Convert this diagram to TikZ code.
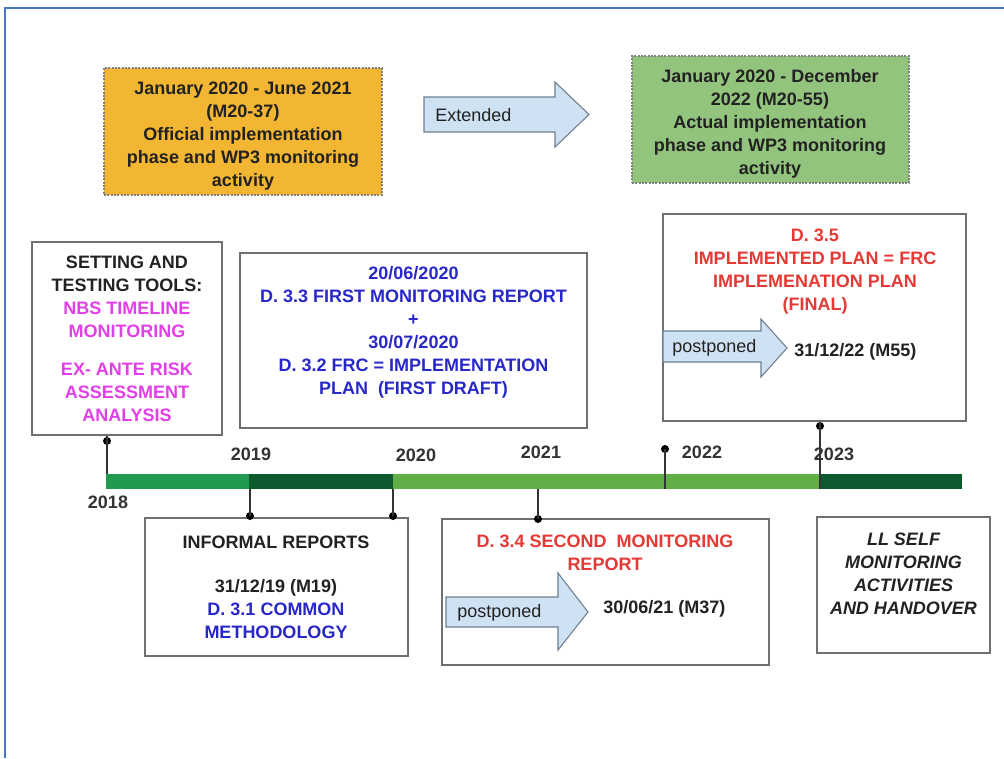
\documentclass[tikz,border=0pt]{standalone}
\usepackage{fontspec}
\setmainfont{Liberation Sans}
\usetikzlibrary{fit}
\definecolor{framecol}{HTML}{4A78C0}
\definecolor{orangefill}{HTML}{F2B632}
\definecolor{greenfill}{HTML}{93C47D}
\definecolor{arrowfill}{HTML}{CFE2F3}
\definecolor{arrowline}{HTML}{6F7F90}
\definecolor{segA}{HTML}{1F9A4E}
\definecolor{segB}{HTML}{0E5A2F}
\definecolor{segC}{HTML}{62AE47}
\definecolor{magtext}{HTML}{E23FE8}
\definecolor{bluetext}{HTML}{2828C8}
\definecolor{redtext}{HTML}{E53935}
\definecolor{boxline}{HTML}{707070}
\definecolor{darktext}{HTML}{222222}
\definecolor{stemcol}{HTML}{333333}
\begin{document}
\begin{tikzpicture}[x=0.75pt,y=-0.75pt,
  boxframe/.style={draw=boxline, line width=0.9pt, inner sep=0pt},
  phasebox/.style={draw=gray, line width=0.8pt, dash pattern=on 1.5pt off 1pt, inner sep=0pt},
  seg/.style={inner sep=0pt, draw=none},
  txt/.style={align=center, inner sep=0pt, text=darktext, font=\fontsize{13.5}{17.25}\selectfont\bfseries},
  plain/.style={inner sep=0pt, text=darktext, font=\fontsize{13.5}{17.25}\selectfont},
  year/.style={inner sep=0pt, text=stemcol, font=\fontsize{13.5}{16}\selectfont\bfseries},
  dotnode/.style={circle, fill=black, inner sep=0pt, minimum size=6pt},
  stem/.style={draw=stemcol, line width=0.8pt},
  bigarrow/.style={fill=arrowfill, draw=arrowline, line width=0.8pt, line join=miter}
]
\useasboundingbox (0,0) rectangle (1004,758);
\fill[white] (0,0) rectangle (1004,758);
% frame
\draw[framecol, line width=1.5pt] (1004,8) -- (5,8) -- (5,758);

% phase boxes
\node[phasebox, fill=orangefill, fit={(104,68)(382,195)}] (orange) {};
\node[txt] (orangetxt) at (243,136) {January 2020 - June 2021\\(M20-37)\\Official implementation\\phase and WP3 monitoring\\activity};
\node[phasebox, fill=greenfill, fit={(632,56)(909,183)}] (green) {};
\node[txt] (greentxt) at (770,124) {January 2020 - December\\2022 (M20-55)\\Actual implementation\\phase and WP3 monitoring\\activity};

% Extended arrow
\draw[bigarrow] (424,97) -- (555,97) -- (555,82) -- (589,114.5) -- (555,147) -- (555,132) -- (424,132) -- cycle;
\node[plain, anchor=west] (ext) at (435,115) {Extended};

% setting box
\node[boxframe, fit={(32,242)(222,435)}] (setbox) {};
\node[txt] (settxt) at (127,339) {SETTING AND\\TESTING TOOLS:\\\textcolor{magtext}{NBS TIMELINE}\\\textcolor{magtext}{MONITORING}\\[11pt]\textcolor{magtext}{EX- ANTE RISK}\\\textcolor{magtext}{ASSESSMENT}\\\textcolor{magtext}{ANALYSIS}};

% first report box
\node[boxframe, fit={(240,253)(587,428)}] (firstbox) {};
\node[txt, text=bluetext] (firsttxt) at (413.5,332.5) {20/06/2020\\D. 3.3 FIRST MONITORING REPORT\\+\\30/07/2020\\D. 3.2 FRC = IMPLEMENTATION\\PLAN\ \ (FIRST DRAFT)};

% D 3.5 box
\node[boxframe, fit={(663,214)(966,421)}] (finalbox) {};
\node[txt, text=redtext] (finaltxt) at (815,271.5) {D. 3.5\\IMPLEMENTED PLAN = FRC\\IMPLEMENATION PLAN\\(FINAL)};
\draw[bigarrow] (663,331) -- (761,331) -- (761,319) -- (787,348) -- (761,377) -- (761,362) -- (663,362) -- cycle;
\node[plain, anchor=west] (post1) at (672,348) {postponed};
\node[txt, anchor=west] (date35) at (794,352) {31/12/22 (M55)};

% timeline bar
\node[seg, fill=segA, fit={(106,474)(249,489)}] (s1) {};
\node[seg, fill=segB, fit={(249,474)(393,489)}] (s2) {};
\node[seg, fill=segC, fit={(393,474)(820,489)}] (s3) {};
\node[seg, fill=segB, fit={(820,474)(962,489)}] (s4) {};

% year labels
\node[year] (y18) at (108,502) {2018};
\node[year] (y19) at (251,454) {2019};
\node[year] (y20) at (416,455) {2020};
\node[year] (y21) at (541,452) {2021};
\node[year] (y22) at (702,452) {2022};
\node[year] (y23) at (834,454) {2023};

% informal box
\node[boxframe, fit={(145,518)(408,656)}] (infbox) {};
\node[txt] (inftitle) at (276,542) {INFORMAL REPORTS};
\node[txt] (inftxt) at (276,609) {31/12/19 (M19)\\\textcolor{bluetext}{D. 3.1 COMMON}\\\textcolor{bluetext}{METHODOLOGY}};

% D 3.4 box
\node[boxframe, fit={(442,519)(769,665)}] (secbox) {};
\node[txt, text=redtext] (sectxt) at (605,552.5) {D. 3.4 SECOND\ \ MONITORING\\REPORT};
\draw[bigarrow] (446,597) -- (558,597) -- (558,573) -- (588,612) -- (558,650) -- (558,627) -- (446,627) -- cycle;
\node[plain, anchor=west] (post2) at (457,613) {postponed};
\node[txt, anchor=west] (date34) at (603,609) {30/06/21 (M37)};

% LL box
\node[boxframe, fit={(817,517)(990,653)}] (llbox) {};
\node[txt, font=\fontsize{13.5}{17.25}\selectfont\bfseries\itshape] (lltxt) at (903.5,573.5) {LL SELF\\MONITORING\\ACTIVITIES\\AND HANDOVER};

% stems and dots
\coordinate (b18) at (107,474);
\node[dotnode] (d18) at (107,441) {};
\draw[stem] (setbox.south -| b18) -- (b18);

\coordinate (b19) at (250,489);
\node[dotnode] (d19) at (250,516) {};
\draw[stem] (b19) -- (d19.center);

\coordinate (b20) at (393,489);
\node[dotnode] (d20) at (393,516) {};
\draw[stem] (b20) -- (d20.center);

\coordinate (b21) at (538,489);
\node[dotnode] (d21) at (538,519) {};
\draw[stem] (b21) -- (d21.center);

\coordinate (b22) at (665,489);
\node[dotnode] (d22) at (665,449) {};
\draw[stem] (d22.center) -- (b22);

\coordinate (b23) at (820,489);
\node[dotnode] (d23) at (820,426) {};
\draw[stem] (finalbox.south -| b23) -- (b23);
\end{tikzpicture}
\end{document}
